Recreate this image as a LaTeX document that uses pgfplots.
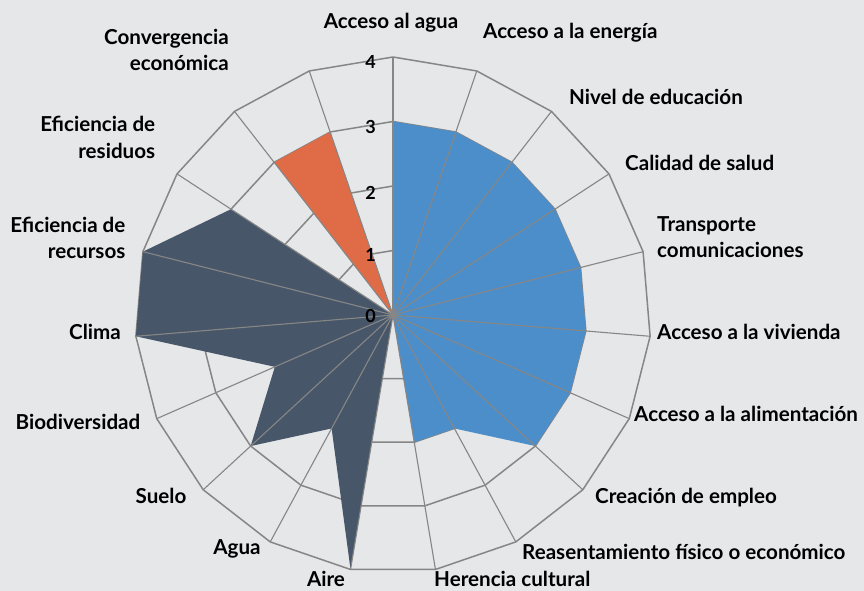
\documentclass[border=0pt]{standalone}
\usepackage{pgfplots}
\pgfplotsset{compat=1.18}
\usepackage{pgfplotstable}
\usepackage{fontspec}
\setmainfont{Lato}
\definecolor{bg}{RGB}{230,231,233}
\definecolor{sblue}{RGB}{76,142,201}
\definecolor{sorange}{RGB}{224,107,71}
\definecolor{sdark}{RGB}{71,86,105}
\definecolor{gridc}{RGB}{134,134,134}

\pgfplotstableread{
k blue dark orange
0 3 0 0
1 3 0 0
2 3 0 0
3 3 0 0
4 3 0 0
5 3 0 0
6 3 0 0
7 3 0 0
8 2 0 0
9 2 0 0
10 0 4 0
11 0 2 0
12 0 3 0
13 0 2 0
14 0 4 0
15 0 4 0
16 0 3 0
17 0 0 3
18 0 0 3
19 3 0 0
}\radar

\pgfplotstableread{
r
0
4
}\spoketab

\newcommand{\lab}[4]{\node[anchor=#3, font=\fontsize{20.6bp}{26.3bp}\selectfont\bfseries, align=#4, inner sep=0pt] at (#1bp,-#2bp)}
\newcommand{\tlab}[2]{\node[anchor=base, font=\fontsize{18bp}{20bp}\selectfont\bfseries, inner sep=0pt] at (#1bp,-#2bp)}

\begin{document}
\begin{tikzpicture}
\fill[bg] (0,0) rectangle (864bp,591bp);
\begin{axis}[
  x=64.5bp, y=64.5bp,
  xmin=-6.093, xmax=7.302, ymin=-4.279, ymax=4.884,
  hide axis, clip=false,
]
\pgfplotsinvokeforeach{1,2,3,4}{
  \addplot[gridc, line width=1.5bp, data cs=polar, mark=none]
    table[x expr={90-\thisrow{k}*360/19}, y expr=#1] {\radar};
}
\addplot[fill=sblue, draw=none, data cs=polar, mark=none]
  table[x expr={90-\thisrow{k}*360/19}, y=blue] {\radar};
\addplot[fill=sdark, draw=none, data cs=polar, mark=none]
  table[x expr={90-\thisrow{k}*360/19}, y=dark] {\radar};
\addplot[fill=sorange, draw=none, data cs=polar, mark=none]
  table[x expr={90-\thisrow{k}*360/19}, y=orange] {\radar};
\pgfplotsinvokeforeach{0,...,18}{
  \addplot[gridc, line width=1.1bp, data cs=polar, mark=none]
    table[x expr={90-#1*360/19}, y=r] {\spoketab};
}
\end{axis}
\pgfresetboundingbox
\path[use as bounding box] (0,0) rectangle (864bp,591bp);
\begin{scope}[shift={(0,591bp)}]
\lab{391}{28.3}{base}{center}{Acceso al agua};
\lab{483}{38.8}{base west}{left}{Acceso a la energía};
\lab{569}{104.8}{base west}{left}{Nivel de educación};
\lab{625}{170.7}{base west}{left}{Calidad de salud};
\lab{657}{258}{base west}{left}{Transporte\\comunicaciones};
\lab{657}{340}{base west}{left}{Acceso a la vivienda};
\lab{634}{422}{base west}{left}{Acceso a la alimentación};
\lab{595}{504}{base west}{left}{Creación de empleo};
\lab{522}{559.7}{base west}{left}{Reasentamiento físico o económico};
\lab{434}{586}{base west}{left}{Herencia cultural};
\lab{326}{586}{base}{center}{Aire};
\lab{237}{554}{base}{center}{Agua};
\lab{161}{504}{base}{center}{Suelo};
\lab{140.5}{430}{base east}{right}{Biodiversidad};
\lab{121}{340}{base east}{right}{Clima};
\lab{125.6}{258.6}{base east}{right}{Eficiencia de\\recursos};
\lab{155.4}{158.3}{base east}{right}{Eficiencia de\\residuos};
\lab{229}{70.9}{base east}{right}{Convergencia\\económica};
\tlab{370.5}{68.5}{4};
\tlab{370.5}{134}{3};
\tlab{370.5}{200}{2};
\tlab{370.5}{261.7}{1};
\tlab{370.5}{323}{0};
\end{scope}
\end{tikzpicture}
\end{document}
